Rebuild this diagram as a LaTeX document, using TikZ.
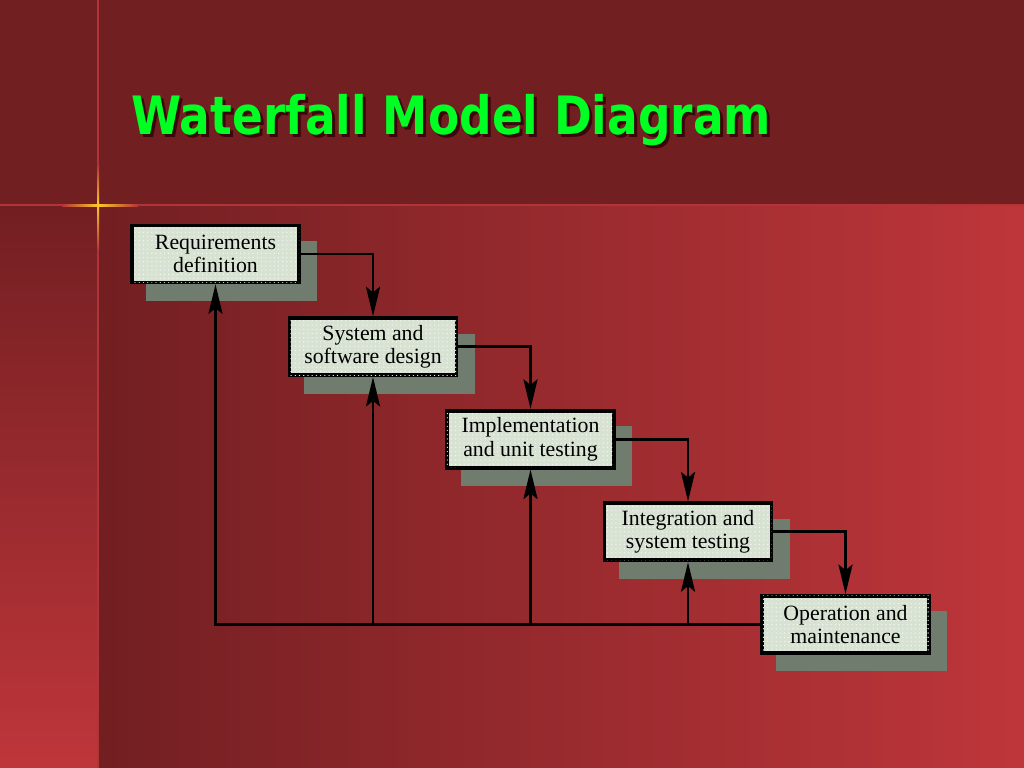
\documentclass[tikz,border=0pt]{standalone}
\usepackage{fontspec}
\setmainfont{Liberation Serif}
\newfontfamily\titlefont{DejaVu Sans}
\usetikzlibrary{arrows.meta,patterns}

\definecolor{bgdark}{RGB}{114,31,34}
\definecolor{bglight}{RGB}{190,54,58}
\definecolor{rulered}{RGB}{178,52,56}
\definecolor{glow}{RGB}{255,200,40}
\definecolor{titlegreen}{RGB}{0,255,34}
\definecolor{titleshade}{RGB}{58,8,10}
\definecolor{stagefill}{RGB}{216,226,210}
\definecolor{stageshadow}{RGB}{112,124,110}

\tikzset{
  stage/.style={draw=black, line width=2.6pt, fill=stagefill,
    postaction={pattern=dots, pattern color=white!70!stagefill},
    minimum width=4.175cm, minimum height=1.425cm, inner sep=0pt, align=center,
    font=\fontsize{15.5}{16.5}\selectfont},
  flow/.style={line width=2pt, -{Stealth[length=21pt,width=10pt,inset=4pt]}},
  titletext/.style={anchor=base west, inner sep=0pt, font=\titlefont\bfseries\fontsize{37.6}{40}\selectfont},
}

\begin{document}
\begin{tikzpicture}[x=0.025cm, y=-0.025cm]
    \useasboundingbox (0,0) rectangle (1024,768);
    % Фон
    \fill[bgdark] (0,0) rectangle (1024,205); % верхняя полоса
    \shade[top color=bgdark, bottom color=bglight] (0,205) rectangle (98,768); % левая полоса
    \shade[left color=bgdark, right color=bglight] (98,205) rectangle (1024,768);
    \draw[rulered, line width=1.2pt] (0,205) -- (1024,205);
    \draw[rulered, line width=1.2pt] (98,0) -- (98,768);

    % Блик
    \shade[left color=rulered, right color=glow] (62,204) rectangle (98,206); 
    \shade[left color=glow, right color=rulered] (98,204) rectangle (138,206);
    \shade[top color=rulered, bottom color=glow] (97,165) rectangle (99,205);
    \shade[top color=glow, bottom color=rulered] (97,205) rectangle (99,250);

    % Заголовок
    \node[titletext, text=titleshade] (titleback) at (134,138) {\scalebox{0.86}[1]{Waterfall Model Diagram}};
    \node[titletext, text=titlegreen] (title) at (131,135) {\scalebox{0.86}[1]{Waterfall Model Diagram}};

    % Этапы
    \foreach \n/\t [count=\i from 0, evaluate=\i as \cx using 215.5+157.5*\i, evaluate=\i as \cy using 254+92.6*\i] in
        {req/{Requirements\\definition}, des/{System and\\software design}, impl/{Implementation\\and unit testing},
         integ/{Integration and\\system testing}, oper/{Operation and\\maintenance}} {
        \fill[stageshadow] (\cx-69.5,\cy-13) rectangle (\cx+101.5,\cy+47); % тень
        \node[stage] (\n) at (\cx,\cy) {\t};
    }

    % Стрелки вниз
    \foreach \a/\b in {req/des, des/impl, impl/integ, integ/oper}
        \draw[flow] (\a.east) -| (\b.north);

    % Обратные связи
    \draw[flow] (oper.west) -| (req.south);
    \foreach \b in {des, impl, integ}
        \draw[flow] (\b.south |- oper.west) -- (\b.south);
\end{tikzpicture}
\end{document}
